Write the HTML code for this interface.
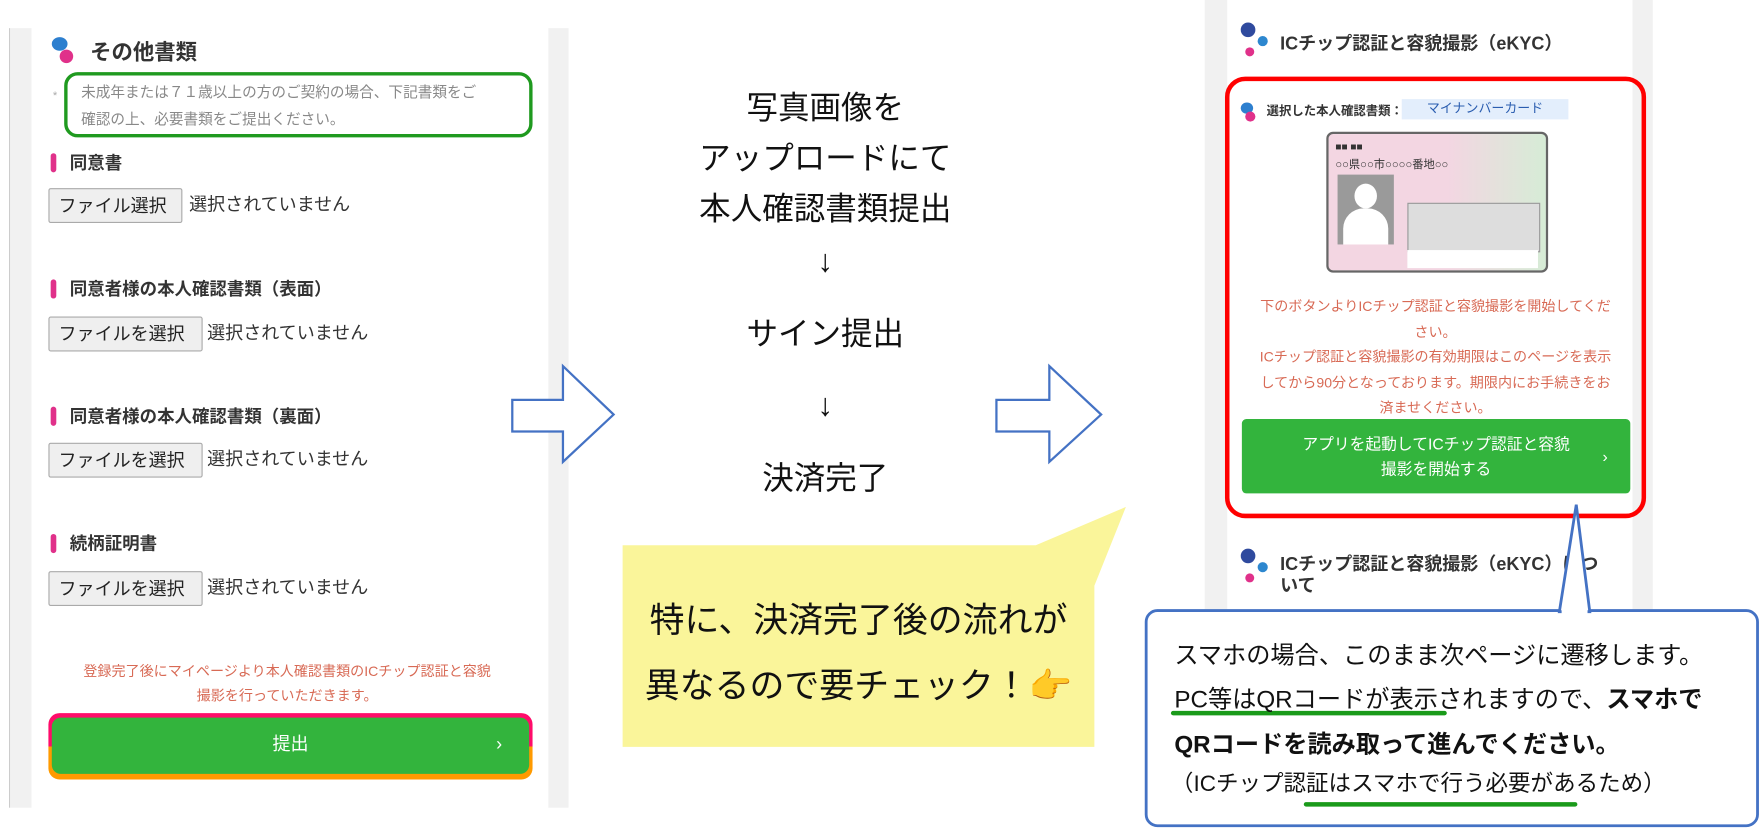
<!DOCTYPE html>
<html><head><meta charset="utf-8"><style>
html,body{margin:0;padding:0;background:#fff;width:1762px;height:837px;overflow:hidden}
#c{position:absolute;left:0;top:0;width:1565px;height:743px;transform:scale(1.1259,1.1265);transform-origin:0 0;font-family:"Liberation Sans","Noto Sans CJK JP",sans-serif}
.a{position:absolute}
.h{font-weight:bold;color:#333;font-size:15.5px}
.bar{position:absolute;width:5px;height:17px;border-radius:3px;background:#e0318a}
.btn{position:absolute;height:31px;border:1px solid #aaa;background:#efefef;border-radius:2px;font-size:16px;line-height:31px;padding:0 8px;color:#222;box-sizing:border-box}
.ns{position:absolute;font-size:16px;color:#333;line-height:31px}
.ct{position:absolute;left:553px;width:360px;text-align:center;font-size:28px;color:#111;line-height:34px}
.rt{position:absolute;left:1095px;width:360px;text-align:center;font-size:12.5px;color:#d86a55;line-height:22.5px}
.bt{position:absolute;font-size:21.5px;color:#111;left:1043px;white-space:nowrap}
</style></head><body><div id="c">
<div class="a" style="left:8px;top:25px;width:1px;height:692px;background:#ccc"></div>
<div class="a" style="left:9px;top:25px;width:19px;height:692px;background:#f1f1f1"></div>
<div class="a" style="left:487px;top:25px;width:18px;height:692px;background:#f1f1f1"></div>
<div class="a" style="left:46px;top:33px;width:14px;height:12px;border-radius:50%;background:#2d7fcf"></div>
<div class="a" style="left:53px;top:44px;width:12px;height:12px;border-radius:50%;background:#e0318a"></div>
<div class="a h" style="left:80px;top:32px;font-size:19px">その他書類</div>
<div class="a" style="left:47px;top:80px;font-size:10px;color:#aaa">*</div>
<div class="a" style="left:57px;top:64px;width:416px;height:58px;border:3px solid #1f9a1f;border-radius:12px;box-sizing:border-box"></div>
<div class="a" style="left:72px;top:70px;font-size:13px;color:#888;line-height:24px;width:400px">未成年または７１歳以上の方のご契約の場合、下記書類をご<br>確認の上、必要書類をご提出ください。</div>
<div class="bar" style="left:45px;top:136px"></div><div class="a h" style="left:62px;top:133px">同意書</div>
<div class="btn" style="left:43px;top:167px;width:119px">ファイル選択</div><div class="ns" style="left:168px;top:167px">選択されていません</div>
<div class="bar" style="left:45px;top:248px"></div><div class="a h" style="left:62px;top:245px">同意者様の本人確認書類（表面）</div>
<div class="btn" style="left:43px;top:281px;width:137px">ファイルを選択</div><div class="ns" style="left:184px;top:281px">選択されていません</div>
<div class="bar" style="left:45px;top:361px"></div><div class="a h" style="left:62px;top:358px">同意者様の本人確認書類（裏面）</div>
<div class="btn" style="left:43px;top:393px;width:137px">ファイルを選択</div><div class="ns" style="left:184px;top:393px">選択されていません</div>
<div class="bar" style="left:45px;top:474px"></div><div class="a h" style="left:62px;top:471px">続柄証明書</div>
<div class="btn" style="left:43px;top:507px;width:137px">ファイルを選択</div><div class="ns" style="left:184px;top:507px">選択されていません</div>
<div class="a" style="left:40px;top:585px;width:430px;text-align:center;font-size:12.5px;color:#d86a55;line-height:22px">登録完了後にマイページより本人確認書類のICチップ認証と容貌<br>撮影を行っていただきます。</div>
<div class="a" style="left:43px;top:633px;width:430px;height:59px;border-radius:10px;background:linear-gradient(#ff0c6a,#ff0c6a 50%,#ff9a00 50%)"></div>
<div class="a" style="left:46px;top:637px;width:424px;height:50px;border-radius:8px;background:#33b43d;color:#fff;font-size:16px;text-align:center;line-height:50px">提出<span style="position:absolute;right:24px">›</span></div>
<svg class="a" style="left:0;top:0" width="1565" height="743">
<polygon points="455,355 500,355 500,325 545,368 500,410 500,383 455,383" fill="#fff" stroke="#4472c4" stroke-width="2"/>
<polygon points="885,355 932,355 932,325 978,368 932,410 932,383 885,383" fill="#fff" stroke="#4472c4" stroke-width="2"/>
<polygon points="553,484 920,484 1000,450 972,520 972,663 553,663" fill="#faf59a" stroke-linejoin="round"/>
</svg>
<div class="ct" style="top:79px">写真画像を</div>
<div class="ct" style="top:124px">アップロードにて</div>
<div class="ct" style="top:169px">本人確認書類提出</div>
<div class="ct" style="top:215px">↓</div>
<div class="ct" style="top:280px">サイン提出</div>
<div class="ct" style="top:343px">↓</div>
<div class="ct" style="top:408px">決済完了</div>
<div class="a" style="left:553px;top:525px;width:419px;text-align:center;font-size:31px;color:#111">特に、決済完了後の流れが</div>
<div class="a" style="left:553px;top:583px;width:419px;text-align:center;font-size:31px;color:#111">異なるので要チェック！👉</div>
<div class="a" style="left:1070px;top:0;width:20px;height:545px;background:#f1f1f1"></div>
<div class="a" style="left:1450px;top:0;width:18px;height:545px;background:#f1f1f1"></div>
<div class="a" style="left:1102px;top:20px;width:13px;height:13px;border-radius:50%;background:#2f4a9e"></div>
<div class="a" style="left:1117px;top:32px;width:9px;height:9px;border-radius:50%;background:#2d87cf"></div>
<div class="a" style="left:1106px;top:42px;width:8px;height:8px;border-radius:50%;background:#e0318a"></div>
<div class="a h" style="left:1137px;top:25px;font-size:16px">ICチップ認証と容貌撮影（eKYC）</div>
<div class="a" style="left:1088px;top:68px;width:374px;height:392px;border:4px solid #ff0000;border-radius:18px;box-sizing:border-box"></div>
<div class="a" style="left:1102px;top:91px;width:11px;height:10px;border-radius:50%;background:#2d7fcf"></div>
<div class="a" style="left:1106px;top:99px;width:9px;height:9px;border-radius:50%;background:#e0318a"></div>
<div class="a" style="left:1125px;top:90px;font-size:11px;font-weight:bold;color:#333">選択した本人確認書類：</div>
<div class="a" style="left:1245px;top:88px;width:148px;height:18px;background:#e3eefc;color:#2a5db0;font-size:11.5px;text-align:center;line-height:18px">マイナンバーカード</div>
<div class="a" style="left:1178px;top:117px;width:197px;height:125px;border:2px solid #666;border-radius:6px;box-sizing:border-box;background:linear-gradient(90deg,#f3d6e2 55%,#d6ecd6)"></div>
<div class="a" style="left:1186px;top:125px;font-size:9px;color:#333;font-weight:bold">■■ ■■</div>
<div class="a" style="left:1186px;top:137px;font-size:10px;color:#333">○○県○○市○○○○番地○○</div>
<div class="a" style="left:1188px;top:155px;width:50px;height:62px;background:#9a9a9a;overflow:hidden"><div class="a" style="left:15px;top:8px;width:20px;height:22px;border-radius:50%;background:#fff"></div><div class="a" style="left:5px;top:30px;width:40px;height:40px;border-radius:45% 45% 0 0;background:#fff"></div></div>
<div class="a" style="left:1250px;top:180px;width:116px;height:42px;background:#ddd;border:1px solid #999"></div>
<div class="a" style="left:1250px;top:222px;width:116px;height:16px;background:#fff"></div>
<div class="rt" style="top:261px">下のボタンよりICチップ認証と容貌撮影を開始してくだ<br>さい。<br>ICチップ認証と容貌撮影の有効期限はこのページを表示<br>してから90分となっております。期限内にお手続きをお<br>済ませください。</div>
<div class="a" style="left:1103px;top:372px;width:345px;height:66px;background:#33b43d;border-radius:4px;color:#fff;font-size:14px;text-align:center;line-height:22px;padding-top:11px;box-sizing:border-box">アプリを起動してICチップ認証と容貌<br>撮影を開始する<span style="position:absolute;right:20px;top:22px">›</span></div>
<div class="a" style="left:1102px;top:487px;width:13px;height:13px;border-radius:50%;background:#2f4a9e"></div>
<div class="a" style="left:1117px;top:499px;width:9px;height:9px;border-radius:50%;background:#2d87cf"></div>
<div class="a" style="left:1106px;top:509px;width:8px;height:8px;border-radius:50%;background:#e0318a"></div>
<div class="a h" style="left:1137px;top:492px;font-size:16px;line-height:19px">ICチップ認証と容貌撮影（eKYC）につ<br>いて</div>
<svg class="a" style="left:0;top:0" width="1565" height="743">
<rect x="1018" y="542" width="543" height="191" rx="10" fill="#fff" stroke="#4472c4" stroke-width="2.5"/>
<polygon points="1385,543 1400,448 1412,543" fill="#fff" stroke="#4472c4" stroke-width="2.5"/>
<rect x="1387" y="541" width="23" height="5" fill="#fff"/>
<rect x="1040" y="631" width="245" height="4" rx="2" fill="#1a9a1a"/>
<rect x="1158" y="712" width="243" height="4" rx="2" fill="#1a9a1a"/>
</svg>
<div class="bt" style="top:565px">スマホの場合、このまま次ページに遷移します。</div>
<div class="bt" style="top:604px">PC等はQRコードが表示されますので、<b>スマホで</b></div>
<div class="bt" style="top:644px;font-weight:bold">QRコードを読み取って進んでください。</div>
<div class="bt" style="top:679px;left:1040px;font-size:20px">（ICチップ認証はスマホで行う必要があるため）</div>
</div></body></html>
